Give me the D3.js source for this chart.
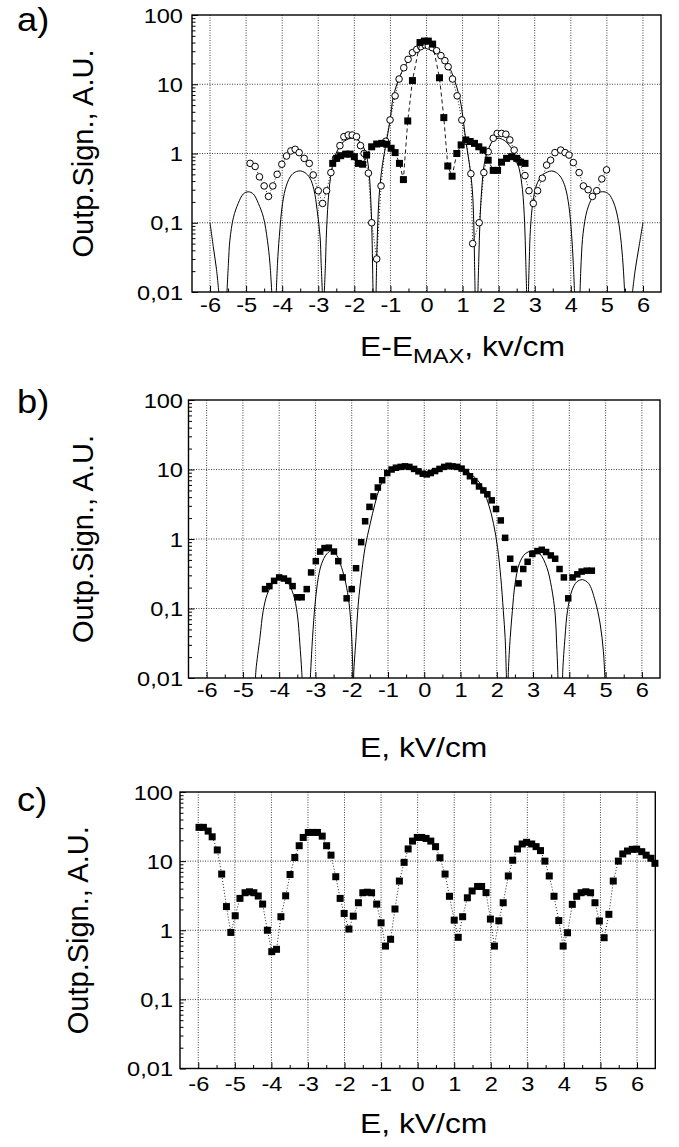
<!DOCTYPE html>
<html>
<head>
<meta charset="utf-8">
<script src="https://cdn.jsdelivr.net/npm/d3@7"></script>
<style>
  body { margin: 0; background: #fff; }
  svg { display: block; }
  text { font-family: "Liberation Sans", Arial, Helvetica, sans-serif; fill: #000; }
</style>
</head>
<body>
<svg width="679" height="1147"></svg>
<script>
// ---- axes / ticks ----
var xTickValues = [-6, -5, -4, -3, -2, -1, 0, 1, 2, 3, 4, 5, 6];
var xMinorValues = [-5.5, -4.5, -3.5, -2.5, -1.5, -0.5, 0.5, 1.5, 2.5, 3.5, 4.5, 5.5];
var yTickValues = [0.01, 0.1, 1, 10, 100];
var yTickLabels = ["0,01", "0,1", "1", "10", "100"];
var yMinorValues = [0.02, 0.03, 0.04, 0.05, 0.06, 0.07, 0.08, 0.09,
  0.2, 0.3, 0.4, 0.5, 0.6, 0.7, 0.8, 0.9,
  2, 3, 4, 5, 6, 7, 8, 9,
  20, 30, 40, 50, 60, 70, 80, 90];

// ---- panel a) ----
var aCircles = [
  [-4.89, 0.72], [-4.75, 0.65], [-4.63, 0.46], [-4.50, 0.34], [-4.38, 0.24], [-4.26, 0.34],
  [-4.14, 0.50], [-4.01, 0.70], [-3.88, 0.92], [-3.76, 1.09], [-3.64, 1.15], [-3.53, 1.03],
  [-3.39, 0.85], [-3.25, 0.72], [-3.14, 0.49], [-3.00, 0.29], [-2.88, 0.19], [-2.77, 0.29],
  [-2.65, 0.53], [-2.52, 0.85], [-2.40, 1.3], [-2.29, 1.75], [-2.17, 1.85], [-2.06, 1.85],
  [-1.94, 1.75], [-1.83, 1.3], [-1.73, 1.0], [-1.61, 0.52], [-1.52, 0.1], [-1.38, 0.03],
  [-1.26, 0.34], [-1.13, 1.5], [-1.01, 3.05], [-0.87, 6.8], [-0.76, 11.9], [-0.63, 17.3],
  [-0.51, 22.9], [-0.39, 28.6], [-0.27, 31.9], [-0.16, 34.9], [-0.04, 36.9], [0.05, 35.7],
  [0.16, 33.7], [0.28, 30.5], [0.40, 25.9], [0.51, 21.9], [0.60, 17.9], [0.72, 11.9],
  [0.85, 6.8], [0.98, 3.05], [1.10, 1.5], [1.23, 0.51], [1.28, 0.05], [1.46, 0.1],
  [1.59, 0.53], [1.71, 1.06], [1.85, 1.66], [1.96, 1.95], [2.08, 1.95], [2.20, 1.9],
  [2.31, 1.57], [2.43, 1.12], [2.55, 0.8], [2.73, 0.48], [2.84, 0.29], [2.96, 0.19],
  [3.08, 0.29], [3.21, 0.44], [3.33, 0.68], [3.44, 0.8], [3.56, 1.03], [3.72, 1.12],
  [3.84, 1.03], [3.95, 0.95], [4.07, 0.74], [4.23, 0.53], [4.35, 0.34], [4.48, 0.30],
  [4.60, 0.24], [4.72, 0.29], [4.86, 0.43], [4.99, 0.58]
];
var aSquares = [
  [-2.60, 0.72], [-2.49, 0.85], [-2.38, 0.93], [-2.24, 0.98], [-2.12, 0.98], [-2.00, 0.90],
  [-1.89, 0.72], [-1.77, 0.70], [-1.66, 0.95], [-1.52, 1.25], [-1.38, 1.37], [-1.24, 1.40],
  [-1.10, 1.36], [-0.98, 1.19], [-0.87, 1.03], [-0.75, 0.72], [-0.64, 0.42], [-0.52, 2.95],
  [-0.39, 11.3], [-0.18, 40], [-0.06, 42], [0.05, 42], [0.17, 38], [0.36, 12.4], [0.48, 3.3],
  [0.59, 0.66], [0.71, 0.47], [0.84, 1.0], [0.96, 1.33], [1.09, 1.57], [1.21, 1.49],
  [1.33, 1.40], [1.45, 1.25], [1.57, 1.12], [1.71, 0.80], [1.85, 0.57], [1.97, 0.57],
  [2.08, 0.75], [2.22, 0.85], [2.36, 0.90], [2.50, 0.85], [2.61, 0.75], [2.73, 0.72]
];
var aTheory = [
  [[-6.0, 0.1], [-5.91, 0.045], [-5.82, 0.021], [-5.74, 0.008]],
  [[-5.54, 0.008], [-5.49, 0.026], [-5.45, 0.056], [-5.35, 0.12], [-5.22, 0.19], [-5.08, 0.26],
   [-4.94, 0.28], [-4.80, 0.26], [-4.66, 0.19], [-4.52, 0.12], [-4.41, 0.056], [-4.34, 0.026], [-4.28, 0.008]],
  [[-4.17, 0.008], [-4.13, 0.026], [-4.08, 0.063], [-3.99, 0.19], [-3.88, 0.35], [-3.74, 0.49],
   [-3.60, 0.55], [-3.49, 0.56], [-3.37, 0.53], [-3.23, 0.44], [-3.12, 0.30], [-3.03, 0.15],
   [-2.95, 0.063], [-2.92, 0.026], [-2.88, 0.008]],
  [[-2.84, 0.008], [-2.80, 0.026], [-2.77, 0.079], [-2.70, 0.30], [-2.61, 0.65], [-2.49, 1.05],
   [-2.35, 1.40], [-2.20, 1.59], [-2.03, 1.66], [-1.87, 1.52], [-1.75, 1.25], [-1.66, 0.91],
   [-1.59, 0.52], [-1.54, 0.19], [-1.51, 0.063], [-1.48, 0.008]],
  [[-1.40, 0.008], [-1.38, 0.03], [-1.35, 0.1], [-1.30, 0.3], [-1.22, 0.7], [-1.12, 1.4],
   [-1.01, 3.0], [-0.92, 6.6], [-0.74, 13], [-0.55, 20], [-0.37, 28], [-0.18, 34], [0, 37],
   [0.18, 34], [0.37, 29], [0.56, 21], [0.74, 13], [0.93, 6], [1.02, 3.0], [1.10, 1.4],
   [1.19, 0.7], [1.27, 0.3], [1.31, 0.1], [1.33, 0.03], [1.35, 0.008]],
  [[1.42, 0.008], [1.45, 0.03], [1.48, 0.1], [1.53, 0.3], [1.60, 0.7], [1.70, 1.1], [1.83, 1.5],
   [1.99, 1.66], [2.15, 1.55], [2.30, 1.3], [2.45, 0.95], [2.57, 0.6], [2.66, 0.3], [2.72, 0.1],
   [2.75, 0.03], [2.78, 0.008]],
  [[2.82, 0.008], [2.85, 0.03], [2.88, 0.08], [2.95, 0.2], [3.05, 0.35], [3.20, 0.48], [3.35, 0.54],
   [3.47, 0.56], [3.60, 0.53], [3.73, 0.45], [3.85, 0.32], [3.95, 0.17], [4.02, 0.07],
   [4.07, 0.025], [4.11, 0.008]],
  [[4.25, 0.008], [4.29, 0.03], [4.34, 0.07], [4.45, 0.15], [4.60, 0.23], [4.75, 0.27],
   [4.92, 0.28], [5.05, 0.26], [5.18, 0.2], [5.30, 0.12], [5.40, 0.05], [5.46, 0.02], [5.50, 0.008]],
  [[5.69, 0.008], [5.78, 0.02], [5.89, 0.045], [6.0, 0.1]]
];

// ---- panel b) ----
var bSquares = [
  [-4.39, 0.19], [-4.27, 0.21], [-4.14, 0.25], [-4.00, 0.28], [-3.87, 0.27], [-3.75, 0.25],
  [-3.63, 0.21], [-3.50, 0.145], [-3.38, 0.145], [-3.24, 0.19], [-3.12, 0.33], [-2.99, 0.48],
  [-2.87, 0.66], [-2.75, 0.74], [-2.63, 0.75], [-2.49, 0.66], [-2.37, 0.48], [-2.25, 0.28],
  [-2.14, 0.14], [-2.00, 0.19], [-1.88, 0.38], [-1.74, 0.9], [-1.63, 1.8], [-1.51, 2.9],
  [-1.40, 4.1], [-1.28, 5.5], [-1.16, 7.0], [-1.02, 8.9], [-0.90, 10], [-0.78, 10.6],
  [-0.65, 10.9], [-0.53, 11.1], [-0.41, 10.9], [-0.28, 10.2], [-0.16, 9.4], [-0.04, 8.7],
  [0.07, 8.5], [0.18, 8.9], [0.30, 9.5], [0.42, 10.2], [0.55, 10.9], [0.67, 11.3],
  [0.78, 11.1], [0.91, 10.9], [1.03, 10.3], [1.15, 9.2], [1.26, 8.0], [1.38, 6.8],
  [1.51, 5.7], [1.63, 5.0], [1.74, 4.4], [1.86, 3.6], [1.98, 2.7], [2.11, 1.85],
  [2.23, 1.04], [2.37, 0.52], [2.48, 0.37], [2.60, 0.23], [2.73, 0.37], [2.85, 0.47],
  [2.98, 0.61], [3.12, 0.67], [3.24, 0.70], [3.36, 0.65], [3.49, 0.58], [3.61, 0.52],
  [3.73, 0.37], [3.85, 0.28], [3.97, 0.14], [4.09, 0.28], [4.22, 0.31], [4.34, 0.34],
  [4.48, 0.35], [4.62, 0.35]
];
var bTheory = [
  [[-4.66, 0.008], [-4.64, 0.013], [-4.53, 0.038], [-4.44, 0.093], [-4.33, 0.16], [-4.16, 0.24],
   [-3.98, 0.29], [-3.79, 0.25], [-3.61, 0.16], [-3.50, 0.083], [-3.43, 0.031], [-3.38, 0.013], [-3.36, 0.008]],
  [[-3.15, 0.008], [-3.13, 0.013], [-3.08, 0.038], [-3.01, 0.116], [-2.92, 0.28], [-2.83, 0.44],
   [-2.69, 0.61], [-2.55, 0.68], [-2.41, 0.58], [-2.28, 0.39], [-2.17, 0.24], [-2.07, 0.116],
   [-2.00, 0.038], [-1.97, 0.013], [-1.96, 0.008]],
  [[-1.95, 0.008], [-1.94, 0.013], [-1.88, 0.038], [-1.82, 0.116], [-1.72, 0.35], [-1.63, 0.76],
   [-1.49, 1.66], [-1.36, 3.2], [-1.22, 5.6], [-1.03, 8.7], [-0.85, 10.2], [-0.65, 10.7],
   [-0.40, 10.4], [-0.15, 9.2], [0.05, 8.3], [0.30, 9.3], [0.55, 10.6], [0.80, 11.0],
   [1.05, 10.2], [1.26, 8.8], [1.54, 6.3], [1.77, 3.2], [1.91, 1.66], [2.02, 0.76],
   [2.11, 0.28], [2.18, 0.093], [2.23, 0.038], [2.26, 0.013], [2.27, 0.008]],
  [[2.31, 0.008], [2.32, 0.013], [2.37, 0.038], [2.43, 0.093], [2.50, 0.22], [2.62, 0.44],
   [2.78, 0.61], [3.01, 0.68], [3.19, 0.61], [3.38, 0.39], [3.51, 0.2], [3.61, 0.083],
   [3.65, 0.031], [3.68, 0.013], [3.69, 0.008]],
  [[3.81, 0.008], [3.82, 0.013], [3.88, 0.038], [3.95, 0.093], [4.07, 0.18], [4.20, 0.24],
   [4.36, 0.26], [4.53, 0.23], [4.71, 0.13], [4.85, 0.06], [4.94, 0.024], [4.98, 0.01], [4.99, 0.008]]
];

// ---- panel c) ----
var cSquares = [
  [-5.98, 30.8], [-5.86, 30.8], [-5.73, 27.2], [-5.62, 22.5], [-5.48, 14.5], [-5.36, 6.5],
  [-5.23, 2.2], [-5.11, 0.93], [-4.99, 1.62], [-4.86, 2.89], [-4.72, 3.49], [-4.60, 3.6],
  [-4.48, 3.49], [-4.36, 3.13], [-4.24, 2.39], [-4.11, 1.0], [-3.99, 0.49], [-3.86, 0.53],
  [-3.74, 1.57], [-3.61, 3.15], [-3.49, 6.4], [-3.36, 11.3], [-3.24, 16.7], [-3.13, 22],
  [-2.99, 26], [-2.87, 26], [-2.74, 26], [-2.61, 23], [-2.49, 16.7], [-2.37, 12.2],
  [-2.24, 5.95], [-2.12, 2.89], [-2.01, 1.75], [-1.88, 1.04], [-1.76, 1.6], [-1.62, 2.5],
  [-1.50, 3.49], [-1.38, 3.55], [-1.26, 3.49], [-1.12, 2.39], [-1.00, 1.28], [-0.88, 0.59],
  [-0.74, 0.74], [-0.62, 2.03], [-0.50, 5.15], [-0.37, 9.6], [-0.26, 15], [-0.14, 19.5],
  [-0.01, 22], [0.11, 22], [0.23, 21.3], [0.36, 19.5], [0.49, 16.2], [0.61, 11.2],
  [0.75, 6.5], [0.87, 3.1], [1.00, 1.4], [1.11, 0.79], [1.23, 1.57], [1.36, 2.95],
  [1.49, 3.7], [1.64, 4.3], [1.75, 4.3], [1.87, 3.5], [1.99, 1.45], [2.10, 0.59],
  [2.22, 1.37], [2.34, 2.5], [2.48, 6.1], [2.60, 10.3], [2.73, 15], [2.86, 17.7],
  [2.98, 18.7], [3.12, 17.7], [3.24, 16.2], [3.36, 14.2], [3.48, 10], [3.60, 6.1],
  [3.73, 3.1], [3.86, 1.38], [3.98, 0.59], [4.10, 0.92], [4.23, 2.37], [4.35, 3.1],
  [4.47, 3.49], [4.60, 3.6], [4.73, 3.49], [4.85, 2.5], [4.97, 1.36], [5.10, 0.78],
  [5.23, 1.7], [5.35, 5.15], [5.49, 10], [5.61, 12.7], [5.74, 14], [5.87, 14.8],
  [5.99, 14.9], [6.13, 13.7], [6.25, 12.2], [6.38, 11], [6.49, 9.3]
];

var svg = d3.select("svg");
var SX = 1.18; // scanned text is a bit wide

var panels = [
  { name: "a", label: "a)", labelY: 31, left: 192, right: 661, top: 15, bottom: 292,
    yGap: 9, xLabOff: 20, yTitleX: 93, titleY: 356,
    theory: aTheory,
    series: [
      { data: aCircles, shape: "circle", dash: "1,2" },
      { data: aSquares, shape: "square", size: 7, dash: "4,3" }
    ] },
  { name: "b", label: "b)", labelY: 413, left: 188.5, right: 660, top: 400, bottom: 678,
    yGap: 5.5, xLabOff: 19, yTitleX: 93, titleY: 757,
    theory: bTheory,
    series: [ { data: bSquares, shape: "square", size: 6.5, dash: null } ] },
  { name: "c", label: "c)", labelY: 811, left: 180, right: 655.3, top: 792, bottom: 1068.5,
    yGap: 7, xLabOff: 22, yTitleX: 88, titleY: 1133,
    theory: [],
    series: [ { data: cSquares, shape: "square", size: 7, dash: "1,2" } ] }
];

panels.forEach(drawPanel);

function drawPanel(p) {
  var x = d3.scaleLinear().domain([-6.5, 6.5]).range([p.left, p.right]);
  var y = d3.scaleLog().domain([0.01, 100]).range([p.bottom, p.top]);
  var g = svg.append("g").attr("class", "panel-" + p.name);

  svg.append("clipPath").attr("id", "clip-" + p.name)
    .append("rect")
    .attr("x", p.left).attr("y", p.top)
    .attr("width", p.right - p.left).attr("height", p.bottom - p.top);

  // dotted grid
  var grid = g.append("g")
    .attr("stroke", "#111").attr("stroke-width", 0.8).attr("stroke-dasharray", "1,1.5");
  grid.selectAll(".gx").data(xTickValues).enter().append("line").attr("class", "gx")
    .attr("x1", d => x(d)).attr("x2", d => x(d))
    .attr("y1", p.top).attr("y2", p.bottom);
  grid.selectAll(".gy").data(yTickValues.slice(1, -1)).enter().append("line").attr("class", "gy")
    .attr("x1", p.left).attr("x2", p.right)
    .attr("y1", d => y(d)).attr("y2", d => y(d));

  // minor ticks
  var xm = g.append("g").attr("transform", "translate(0," + p.bottom + ")")
    .call(d3.axisBottom(x).tickValues(xMinorValues).tickSize(-3.5).tickSizeOuter(0).tickFormat(""));
  xm.select(".domain").remove();
  var ym = g.append("g").attr("transform", "translate(" + p.left + ",0)")
    .call(d3.axisLeft(y).tickValues(yMinorValues).tickSize(-3.5).tickSizeOuter(0).tickFormat(""));
  ym.select(".domain").remove();

  // major ticks + labels
  var xAxis = g.append("g").attr("transform", "translate(0," + p.bottom + ")")
    .call(d3.axisBottom(x).tickValues(xTickValues).tickSize(-6).tickSizeOuter(0)
      .tickFormat(d => String(d)));
  xAxis.select(".domain").remove();
  xAxis.attr("font-size", null).attr("font-family", null);
  xAxis.selectAll("text")
    .attr("y", 0).attr("dy", null)
    .attr("transform", "translate(0," + p.xLabOff + ") scale(" + SX + ",1)")
    .style("font-size", "20px");

  var yAxis = g.append("g").attr("transform", "translate(" + p.left + ",0)")
    .call(d3.axisLeft(y).tickValues(yTickValues).tickSize(-6).tickSizeOuter(0)
      .tickFormat(d => yTickLabels[yTickValues.indexOf(d)]));
  yAxis.select(".domain").remove();
  yAxis.attr("font-size", null).attr("font-family", null);
  yAxis.selectAll("text")
    .attr("x", 0).attr("dy", "0.36em")
    .attr("transform", "translate(" + (-p.yGap) + ",0) scale(" + SX + ",1)")
    .style("font-size", "20px");
  g.selectAll(".tick line").attr("stroke-width", 1);

  // theory curve
  var curve = d3.line()
    .x(d => x(d[0])).y(d => y(d[1]))
    .curve(d3.curveCatmullRom.alpha(0.5));
  g.append("g").attr("clip-path", "url(#clip-" + p.name + ")")
    .selectAll("path").data(p.theory).enter().append("path")
    .attr("d", curve)
    .attr("fill", "none").attr("stroke", "#000").attr("stroke-width", 1);

  // experimental series
  var straight = d3.line().x(d => x(d[0])).y(d => y(d[1]));
  p.series.forEach(function (s) {
    if (s.dash) {
      g.append("path").datum(s.data)
        .attr("d", straight)
        .attr("fill", "none").attr("stroke", "#000").attr("stroke-width", 0.9)
        .attr("stroke-dasharray", s.dash)
        .attr("clip-path", "url(#clip-" + p.name + ")");
    }
    if (s.shape === "circle") {
      g.append("g").selectAll("circle").data(s.data).enter().append("circle")
        .attr("cx", d => x(d[0])).attr("cy", d => y(d[1])).attr("r", 3.3)
        .attr("fill", "#fff").attr("stroke", "#000").attr("stroke-width", 1);
    } else {
      g.append("g").selectAll("rect").data(s.data).enter().append("rect")
        .attr("x", d => x(d[0]) - s.size / 2).attr("y", d => y(d[1]) - s.size / 2)
        .attr("width", s.size).attr("height", s.size)
        .attr("fill", "#000");
    }
  });

  // frame
  g.append("rect")
    .attr("x", p.left).attr("y", p.top)
    .attr("width", p.right - p.left).attr("height", p.bottom - p.top)
    .attr("fill", "none").attr("stroke", "#000").attr("stroke-width", 1.4);

  // panel letter
  svg.append("text")
    .attr("transform", "translate(17," + p.labelY + ") scale(1.1,1)")
    .style("font-size", "33px")
    .text(p.label);

  // y title
  svg.append("text")
    .attr("transform", "translate(" + p.yTitleX + "," + ((p.top + p.bottom) / 2) + ") rotate(-90)")
    .attr("text-anchor", "middle")
    .style("font-size", "29px")
    .text("Outp.Sign., A.U.");

  // x title
  var t = svg.append("text")
    .attr("transform", "translate(360," + p.titleY + ") scale(" + SX + ",1)")
    .style("font-size", "27px");
  if (p.name === "a") {
    t.append("tspan").text("E-E");
    t.append("tspan").attr("dy", 7).style("font-size", "20px").text("MAX");
    t.append("tspan").attr("dy", -7).text(", kv/cm");
  } else {
    t.text("E, kV/cm");
  }
}
</script>
</body>
</html>
